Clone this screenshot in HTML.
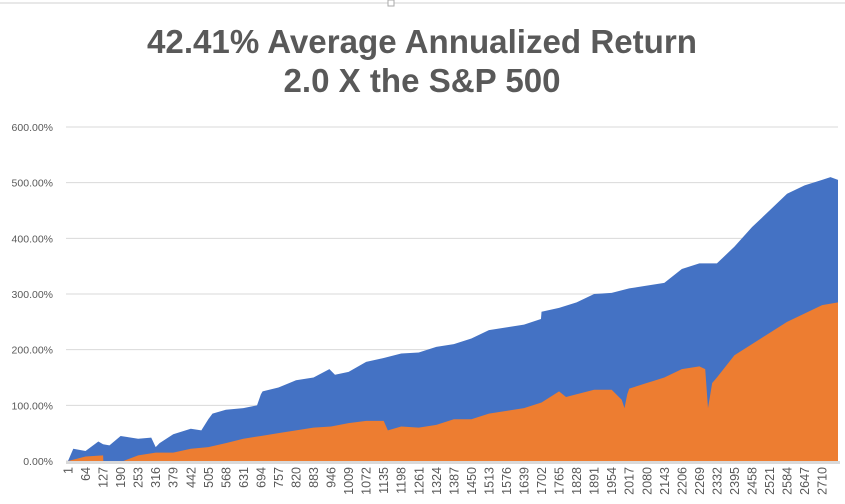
<!DOCTYPE html>
<html><head><meta charset="utf-8"><style>
html,body{margin:0;padding:0;background:#fff;}
svg{display:block;font-family:"Liberation Sans",sans-serif;}
</style></head><body>
<svg id="chart" width="845" height="504" viewBox="0 0 845 504">
<line x1="0" y1="3" x2="845" y2="3" stroke="#d0d0d0" stroke-width="1"/>
<rect x="388" y="0" width="6" height="6" fill="#fff" stroke="#aaa" stroke-width="1"/>
<text x="422" y="53" text-anchor="middle" font-size="33" font-weight="bold" fill="#595959" textLength="550" lengthAdjust="spacingAndGlyphs">42.41% Average Annualized Return</text>
<text x="422" y="92" text-anchor="middle" font-size="33" font-weight="bold" fill="#595959" textLength="277" lengthAdjust="spacingAndGlyphs">2.0 X the S&amp;P 500</text>
<g id="grid"></g><g id="yticks"></g><g id="areas"></g><g id="xticks"></g>
</svg>
<script>
const xLabels=[];for(let d=1;d<=2710;d+=63)xLabels.push(d);
const yTicks=[0,100,200,300,400,500,600];
const blueDays=[1,20,64,110,127,150,190,253,300,316,330,379,442,480,505,520,568,631,680,694,700,757,820,883,940,960,1009,1072,1135,1198,1261,1324,1387,1450,1513,1576,1639,1700,1702,1765,1828,1891,1954,2017,2080,2143,2206,2269,2332,2395,2458,2521,2584,2647,2710,2740,2767];
const blueVals=[0,22,18,35,30,28,45,40,42,25,32,48,58,55,75,85,92,95,100,120,125,132,145,150,165,155,160,178,185,193,195,205,210,220,235,240,245,255,268,275,285,300,302,310,315,320,345,355,355,385,420,450,480,495,505,510,505];
const orangeDays=[1,40,64,127,128,150,190,200,253,316,379,442,505,568,631,694,757,820,883,946,1009,1072,1135,1150,1198,1261,1324,1387,1450,1513,1576,1639,1702,1765,1790,1828,1891,1954,1990,2000,2010,2017,2080,2143,2206,2269,2290,2300,2315,2332,2395,2458,2521,2584,2647,2710,2767];
const orangeVals=[0,5,8,10,0,0,0,0,10,15,15,22,25,32,40,45,50,55,60,62,68,72,72,55,62,60,65,75,75,85,90,95,105,125,115,120,128,128,110,95,120,130,140,150,165,170,165,95,140,150,190,210,230,250,265,280,285];
const X0=68,X1=838,Dmax=2767,Y0=461,PX=0.5567;
const xs=d=>X0+(d-1)*(X1-X0)/(Dmax-1);
const ys=v=>Y0-v*PX;
const NS='http://www.w3.org/2000/svg';
function mk(t,a){const e=document.createElementNS(NS,t);for(const k in a)e.setAttribute(k,a[k]);return e;}
const grid=document.getElementById('grid'),yt=document.getElementById('yticks'),ar=document.getElementById('areas'),xt=document.getElementById('xticks');
yTicks.forEach(v=>{
 const l=mk('line',{x1:X0-2,x2:X1,y1:ys(v),y2:ys(v),stroke:'#d9d9d9','stroke-width':1});
 
 
 grid.appendChild(l);
 const t=mk('text',{x:53,y:ys(v)+4,'text-anchor':'end','font-size':10.5,fill:'#595959'});
 t.textContent=v.toFixed(2)+'%';
 
 
 yt.appendChild(t);
});
function area(days,vals,color,name){
 let p=xs(days[0])+','+Y0+' ';
 days.forEach((d,i)=>{p+=xs(d)+','+ys(vals[i])+' ';});
 p+=xs(days[days.length-1])+','+Y0;
 const e=mk('polygon',{points:p,fill:color});
 
 
 ar.appendChild(e);
}
area(blueDays,blueVals,'#4472c4','strategy-area');
area(orangeDays,orangeVals,'#ed7d31','sp500-area');
const ax=mk('rect',{x:X0-2,y:Y0,width:X1-X0+4,height:3,fill:'#d9d9d9'});


xt.appendChild(ax);
xLabels.forEach(d=>{
 const x=xs(d)+4.5,y=467;
 const t=mk('text',{x:x,y:y,transform:'rotate(-90 '+x+' '+y+')','text-anchor':'end','font-size':12.5,fill:'#595959'});
 t.textContent=d;
 
 
 xt.appendChild(t);
});
</script>
</body></html>
